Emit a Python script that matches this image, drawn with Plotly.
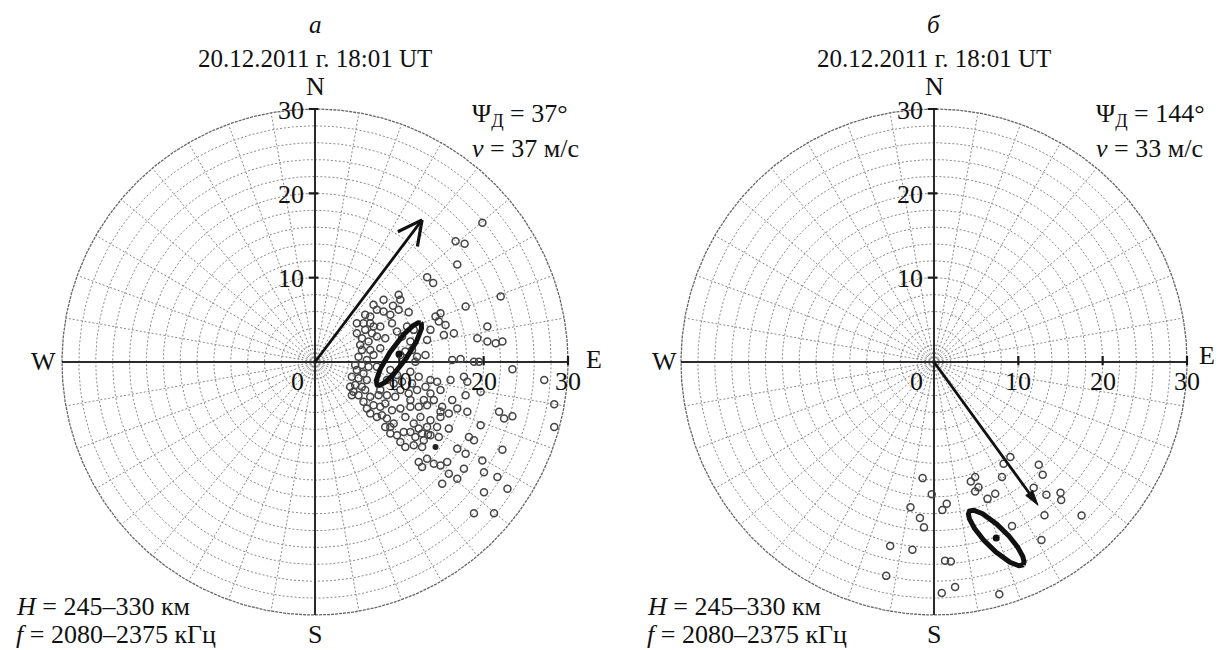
import numpy as np
import plotly.graph_objects as go

# ---------------- data ----------------
panel_letters = ["а", "б"]
titles = ["20.12.2011 г. 18:01 UT", "20.12.2011 г. 18:01 UT"]
psi_deg = [37, 144]          # drift azimuth, degrees from N clockwise
speed_ms = [37, 33]          # drift speed, m/s
arrow_len = [21.1, 21.0]     # drawn arrow length in axis units
h_range = "245–330"
f_range = "2080–2375"

ticks = [10, 20, 30]
grid_radii = list(range(2, 30, 2))
outer_radius = 30
spoke_angles = list(range(0, 360, 10))

# panel a: velocity points (east, north components)
a_east = [14.01, 9.92, 10.12, 8.13, 6.94, 9.25, 9.92, 8.13, 8.93, 11.11,
          22.02, 17.86, 14.88, 14.29, 14.68, 15.48, 13.69, 5.95, 6.55, 4.96,
          5.75, 6.94, 7.74, 5.95, 6.75, 4.96, 5.56, 7.34, 8.33, 6.35,
          5.36, 10.91, 9.72, 10.32, 11.31, 11.71, 16.47, 15.28, 19.25, 20.44,
          21.43, 22.22, 5.56, 6.55, 7.74, 5.16, 6.15, 5.56, 6.35, 10.12,
          10.71, 11.51, 12.10, 11.90, 13.10, 13.29, 16.27, 17.26, 18.85, 19.44,
          23.41, 4.96, 5.75, 5.16, 6.15, 4.76, 5.56, 4.56, 5.16, 4.37,
          8.93, 9.72, 8.53, 9.33, 10.32, 11.31, 12.30, 13.69, 14.48, 16.07,
          17.66, 18.06, 27.18, 6.55, 7.54, 8.53, 9.52, 10.12, 11.11, 12.10,
          13.69, 14.88, 14.09, 13.29, 15.08, 16.27, 17.86, 19.64, 6.94, 7.74,
          8.33, 6.55, 7.34, 9.13, 10.12, 11.31, 12.30, 14.88, 15.87, 16.87,
          18.06, 21.83, 22.42, 23.41, 28.37, 28.37, 8.53, 9.33, 8.33, 9.72,
          10.12, 11.31, 11.90, 12.30, 13.29, 13.69, 12.90, 14.68, 15.87, 14.88,
          13.69, 19.64, 8.93, 10.71, 11.71, 12.70, 13.40, 16.87, 18.25, 18.85,
          12.30, 13.29, 14.09, 14.88, 15.67, 17.86, 19.84, 22.22, 12.70, 15.87,
          17.66, 20.04, 21.63, 15.08, 16.87, 20.04, 22.82, 18.85, 21.23, 19.85,
          16.67, 17.74, 16.87, 13.30, 20.44,
          4.37, 4.76, 6.94, 7.34, 4.17, 5.95, 7.74, 5.75, 6.15, 7.94,
          8.93, 10.52, 11.71, 12.70, 14.48, 12.50, 10.71, 11.31, 12.90, 13.10,
          11.51, 7.34, 9.13, 6.55]
a_north = [9.37, 7.98, 7.38, 7.38, 6.79, 6.67, 6.19, 5.99, 5.60, 5.91,
           7.78, 6.59, 5.79, 5.40, 4.80, 4.40, 3.81, 5.60, 5.40, 4.60,
           4.60, 4.21, 4.21, 3.81, 3.41, 3.41, 2.82, 3.02, 2.82, 2.42,
           2.02, 4.21, 3.61, 3.02, 2.42, 3.81, 3.41, 3.21, 2.82, 2.42,
           2.22, 2.42, 1.43, 1.43, 1.63, 0.63, 0.24, -0.36, -0.56, 0.83,
           1.23, 1.43, 0.63, 0.04, 0.83, 2.62, 0.24, 0.36, 0.04, 0.04,
           -0.87, -0.95, -1.35, -1.94, -2.14, -2.74, -2.94, -3.53, -3.93, -3.93,
           -0.95, -1.55, -2.14, -2.54, -2.34, -1.15, -1.75, -2.14, -2.34, -2.14,
           -1.75, -2.34, -2.14, -4.13, -3.93, -3.93, -4.13, -3.33, -3.73, -3.33,
           -3.73, -3.33, -4.52, -5.12, -5.32, -4.52, -3.93, -3.53, -5.12, -5.32,
           -4.92, -6.11, -6.51, -5.71, -5.52, -5.32, -5.32, -5.91, -6.11, -5.52,
           -5.91, -5.91, -6.71, -6.43, -5.00, -7.70, -6.71, -7.30, -7.70, -8.69,
           -9.48, -8.29, -8.89, -7.90, -7.70, -8.69, -9.29, -8.89, -7.90, -6.51,
           -6.90, -7.50, -8.49, -10.08, -9.88, -10.08, -8.60, -10.28, -8.89, -9.29,
           -11.87, -11.47, -12.06, -12.26, -11.87, -10.87, -11.67, -10.40, -12.46, -13.25,
           -12.66, -13.06, -13.65, -14.44, -13.85, -15.44, -15.04, -17.94, -17.94, 16.51,
           14.32, 14.01, 11.55, 10.04, 4.20,
           -1.75, -0.36, 0.83, -0.56, -2.94, -3.33, -3.33, -4.72, -5.52, -6.31,
           -7.70, -8.29, -7.30, -8.49, -7.70, -6.51, -6.51, -4.52, -4.52, -2.94,
           -2.54, 6.19, 4.60, 4.60]
a_extra_dot = (14.29, -10.08)

# panel b: velocity points
b_east = [9.05, 8.25, 12.42, 12.89, 8.06, -1.35, 4.88, 4.37, 5.27, 4.88,
          7.26, 6.35, 11.82, 13.33, 15.00, 15.08, -0.27, 1.51, 0.99, 13.10,
          17.50, -2.79, -1.67, -1.19, 9.25, 12.74, 1.31, 1.99, -5.20, -2.56,
          -5.67, 2.50, 0.92, 7.74]
b_north = [-11.27, -12.06, -12.18, -13.37, -13.65, -13.77, -13.65, -14.17, -14.85, -15.36,
           -15.63, -16.23, -14.92, -15.75, -15.51, -16.35, -15.68, -16.82, -17.54, -18.18,
           -18.21, -17.23, -18.49, -19.61, -19.44, -21.11, -23.57, -23.65, -21.82, -22.26,
           -25.36, -26.67, -27.38, -27.54]

# mean velocity and error ellipse for each panel
ell_center_e = [9.96, 7.38]
ell_center_n = [0.95, -20.87]
ell_semi_major = [4.5, 4.5]
ell_semi_minor = [1.0, 1.25]
ell_axis_az = [35, 135]   # azimuth of the major axis, degrees

# ---------------- layout geometry ----------------
OFF = 8                      # page body margin of the html page
W, H = 1224 - OFF, 650 - OFF
PX_PER_UNIT = 253 / 30
RNG = 32
centers_px = [(315, 362), (934, 362)]   # page pixel positions of plot centres
FONT = "Liberation Serif, Times New Roman, serif"
TXT = "#111111"


def paper_x(px):
    return (px - OFF) / W


def paper_y(py):
    return 1 - (py - OFF) / H


fig = go.Figure()
layout_axes = {}
for i, (cx, cy) in enumerate(centers_px):
    half = RNG * PX_PER_UNIT
    sfx = "" if i == 0 else "2"
    right = min(1, paper_x(cx + half))
    layout_axes["xaxis" + sfx] = dict(domain=[paper_x(cx - half), right],
                                      range=[-RNG, RNG * (right - paper_x(cx)) /
                                             (paper_x(cx + half) - paper_x(cx))],
                                      visible=False, anchor="y" + sfx, fixedrange=True)
    layout_axes["yaxis" + sfx] = dict(domain=[paper_y(cy + half), paper_y(cy - half)],
                                      range=[-RNG, RNG], visible=False,
                                      anchor="x" + sfx, fixedrange=True)

t = np.linspace(0, 2 * np.pi, 721)


def add_panel(i, east, north):
    xa = "x" if i == 0 else "x2"
    ya = "y" if i == 0 else "y2"
    common = dict(xaxis=xa, yaxis=ya, showlegend=False, hoverinfo="skip")

    # dotted grid circles
    gx, gy = [], []
    for r in grid_radii:
        gx += list(r * np.cos(t)) + [None]
        gy += list(r * np.sin(t)) + [None]
    fig.add_trace(go.Scatter(x=gx, y=gy, mode="lines",
                             line=dict(color="#8a8a8a", width=1, dash="2px,2px"), **common))
    # spokes
    sx, sy = [], []
    for a in spoke_angles:
        th = np.deg2rad(a)
        sx += [0, outer_radius * np.sin(th), None]
        sy += [0, outer_radius * np.cos(th), None]
    fig.add_trace(go.Scatter(x=sx, y=sy, mode="lines",
                             line=dict(color="#8a8a8a", width=1, dash="2px,2px"), **common))
    # outer circle
    fig.add_trace(go.Scatter(x=outer_radius * np.cos(t), y=outer_radius * np.sin(t), mode="lines",
                             line=dict(color="#666666", width=1.3, dash="3px,1px"), **common))
    # main axes
    fig.add_trace(go.Scatter(x=[0, 0, None, -outer_radius, outer_radius],
                             y=[-outer_radius, outer_radius, None, 0, 0], mode="lines",
                             line=dict(color="#2a2a2a", width=2), **common))
    # tick marks
    tx, ty = [], []
    for v in ticks:
        tx += [-0.75, 0.4, None, v, v, None]
        ty += [v, v, None, -0.4, 0.7, None]
    fig.add_trace(go.Scatter(x=tx, y=ty, mode="lines",
                             line=dict(color="#1a1a1a", width=2.2), **common))

    # data points
    fig.add_trace(go.Scatter(x=east, y=north, mode="markers",
                             marker=dict(symbol="circle-open", size=7, color="#444444",
                                         line=dict(width=1.5, color="#444444")),
                             **common))

    # error ellipse
    th = np.deg2rad(90 - ell_axis_az[i])
    a, b = ell_semi_major[i], ell_semi_minor[i]
    ex = ell_center_e[i] + a * np.cos(t) * np.cos(th) - b * np.sin(t) * np.sin(th)
    ey = ell_center_n[i] + a * np.cos(t) * np.sin(th) + b * np.sin(t) * np.cos(th)
    fig.add_trace(go.Scatter(x=ex, y=ey, mode="lines",
                             line=dict(color="#111111", width=5), **common))
    fig.add_trace(go.Scatter(x=[ell_center_e[i]], y=[ell_center_n[i]], mode="markers",
                             marker=dict(size=7, color="#111111"), **common))

    # drift arrow
    psi = np.deg2rad(psi_deg[i])
    L = arrow_len[i]
    ux, uy = np.sin(psi), np.cos(psi)
    tipx, tipy = L * ux, L * uy
    if i == 0:
        fig.add_trace(go.Scatter(x=[0, tipx], y=[0, tipy], mode="lines",
                                 line=dict(color="#111111", width=2.8), **common))
        hx, hy = [], []
        for sgn in (-1, 1):
            ang = np.arctan2(-uy, -ux) + sgn * np.deg2rad(27)
            hx += [tipx + 3.2 * np.cos(ang), tipx, None]
            hy += [tipy + 3.2 * np.sin(ang), tipy, None]
        fig.add_trace(go.Scatter(x=hx, y=hy, mode="lines",
                                 line=dict(color="#111111", width=3.2), **common))
    else:
        back = 1.8
        basex, basey = tipx - back * ux, tipy - back * uy
        fig.add_trace(go.Scatter(x=[0, basex], y=[0, basey], mode="lines",
                                 line=dict(color="#111111", width=2.8), **common))
        px_, py_ = -uy, ux
        w = 0.5
        fig.add_trace(go.Scatter(x=[tipx, basex + w * px_, basex - w * px_, tipx],
                                 y=[tipy, basey + w * py_, basey - w * py_, tipy],
                                 mode="lines", fill="toself", fillcolor="#111111",
                                 line=dict(color="#111111", width=1), **common))


add_panel(0, a_east, a_north)
fig.add_trace(go.Scatter(x=[a_extra_dot[0]], y=[a_extra_dot[1]], mode="markers",
                         marker=dict(size=6, color="#222222"), xaxis="x", yaxis="y",
                         showlegend=False, hoverinfo="skip"))
add_panel(1, b_east, b_north)

# ---------------- text ----------------
ann = []


def text(x, y, s, size=26, xanchor="center", yanchor="middle", xref="paper", yref="paper",
         xshift=0, yshift=0):
    ann.append(dict(x=x, y=y, text=s, showarrow=False, xref=xref, yref=yref,
                    xanchor=xanchor, yanchor=yanchor, xshift=xshift, yshift=yshift,
                    font=dict(family=FONT, size=size, color=TXT)))


for i, (cx, cy) in enumerate(centers_px):
    xr = "x" if i == 0 else "x2"
    yr = "y" if i == 0 else "y2"
    text(paper_x(cx), paper_y(25), "<i>" + panel_letters[i] + "</i>", size=25)
    text(paper_x(cx), paper_y(59), titles[i], size=25)
    text(paper_x(cx), paper_y(87), "N", size=26)
    text(paper_x(cx), paper_y(634), "S", size=26)
    # tick labels
    for v in ticks:
        text(0, v, str(v), size=26, xanchor="right", xref=xr, yref=yr, xshift=-9, yshift=-1)
        text(v, 0, str(v), size=26, xref=xr, yref=yr, yshift=-19)
    text(0, 0, "0", size=26, xref=xr, yref=yr, xshift=-18, yshift=-19)

# compass W/E
text(paper_x(43), paper_y(362), "W", size=26)
text(paper_x(594), paper_y(360), "E", size=26)
text(paper_x(664), paper_y(362), "W", size=26)
text(paper_x(1207), paper_y(356), "E", size=26)

# drift parameters
for i, x0 in enumerate([470, 1094]):
    text(paper_x(x0), paper_y(115), "Ψ<sub>Д</sub> = %d°" % psi_deg[i], size=26, xanchor="left")
    text(paper_x(x0), paper_y(148), "<i>v</i> = %d м/с" % speed_ms[i], size=26, xanchor="left")

for x0 in [14, 645]:
    text(paper_x(x0), paper_y(606), "<i>H</i> = %s км" % h_range, size=26, xanchor="left")
    text(paper_x(x0), paper_y(634), "<i>f</i> = %s кГц" % f_range, size=26, xanchor="left")

fig.update_layout(width=W, height=H, margin=dict(l=0, r=0, t=0, b=0),
                  paper_bgcolor="white", plot_bgcolor="white",
                  annotations=ann, **layout_axes)

fig.write_html("out.html")
